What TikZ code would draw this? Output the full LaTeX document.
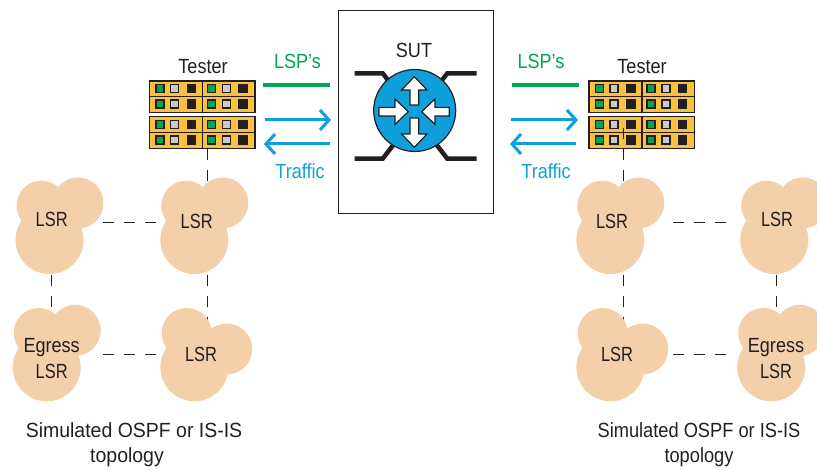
\documentclass[tikz,border=0pt]{standalone}
\usepackage{fontspec}
\setmainfont[FakeStretch=0.88]{Liberation Sans}
\newfontfamily\capfont[FakeStretch=0.95]{Liberation Sans}
\newfontfamily\capnarrowfont[FakeStretch=0.89]{Liberation Sans}
\newfontfamily\lsrfont[FakeStretch=0.8]{Liberation Sans}
\usetikzlibrary{arrows.meta}
\definecolor{ink}{HTML}{231F20}
\definecolor{peach}{HTML}{F3CFAA}
\definecolor{panel}{HTML}{FBC040}
\definecolor{lspgreen}{HTML}{00A651}
\definecolor{trafblue}{HTML}{0FA0DC}
\definecolor{lampgrey}{HTML}{C8CACC}
\tikzset{
  txt/.style={font=\fontsize{20.5}{24}\selectfont,text=ink,inner sep=0pt},
  lsrtxt/.style={font=\lsrfont\fontsize{20.5}{24}\selectfont,text=ink,inner sep=0pt},
  captxt/.style={font=\capfont\fontsize{20.5}{24}\selectfont,text=ink,inner sep=0pt},
  capnarrow/.style={font=\capnarrowfont\fontsize{20.5}{24}\selectfont,text=ink,inner sep=0pt},
  greentxt/.style={txt,text=lspgreen},
  bluetxt/.style={txt,text=trafblue},
  anchorbox/.style={inner sep=0pt,outer sep=0pt,minimum height=#1},
  link/.style={ink,line width=1.3pt,dash pattern=on 11pt off 10pt},
  lspline/.style={lspgreen,line width=4.5pt},
  trafline/.style={trafblue,line width=3pt,-{Straight Barb[length=9pt,width=20pt,line width=3pt]}},
  blobfill/.style={fill=peach,draw=none},
  leg/.style={ink,line width=4.5pt,line join=miter},
  whitearrow/.style={fill=white,draw=ink,line width=1.2pt,line join=miter},
  lamp/.style={draw=ink,line width=1.6pt,minimum size=8pt,inner sep=0pt,outer sep=0pt},
}
% lobes up-left and up-right of the big circle
\newcommand{\blobA}[2]{%
  \fill[blobfill] (#1,#2) circle[radius=34pt] (#1-8,#2-34.3) circle[radius=25pt] (#1+28.5,#2-37) circle[radius=25.5pt];}
% lobes up-left and right of the big circle
\newcommand{\blobB}[2]{%
  \fill[blobfill] (#1,#2) circle[radius=34pt] (#1-7.6,#2-34.3) circle[radius=25pt] (#1+32.5,#2-18.3) circle[radius=25.5pt];}
\newcommand{\lamps}[2]{%
  \node[lamp,fill=lspgreen] at (#1,#2) {};
  \node[lamp,fill=lampgrey] at (#1+14.8,#2) {};
  \node[lamp,fill=ink] at (#1+31.5,#2) {};}
\newcommand{\testerrack}[2]{% name, left x
  \node[inner sep=0pt,outer sep=0pt,minimum width=105.5pt,minimum height=67.7pt] (#1) at (#2+52.75,114.85) {};
  \foreach \ya/\yb in {81/112.7,116.7/148.7}{
    \draw[ink,line width=1.3pt,fill=panel] (#2,\ya) rectangle (#2+105.5,\yb);
    \draw[ink,line width=1.3pt] (#2,{(\ya+\yb)/2}) -- (#2+105.5,{(\ya+\yb)/2});
    \draw[ink,line width=1.3pt] (#2+53,\ya) -- (#2+53,\yb);
  }
  \foreach \yy in {88.7,104.3,124.7,140}{
    \lamps{#2+10.3}{\yy}
    \lamps{#2+62}{\yy}
  }}
\begin{document}
\begin{tikzpicture}[x=1pt,y=-1pt]
\useasboundingbox (0,0) rectangle (817,470);
\clip (0,0) rectangle (817,470);

% SUT box and router
\node[draw=ink,line width=1.3pt,inner sep=0pt,minimum width=155pt,minimum height=202.6pt] (sut) at (415.8,112) {};
\node[txt] (suttxt) at (414,50) {SUT};
\draw[leg] (354.7,73.3) -- (382.7,73.3) -- (394,88);
\draw[leg] (354.7,158.7) -- (382.7,158.7) -- (394,144);
\draw[leg] (476.7,73.3) -- (447.3,73.3) -- (436,88);
\draw[leg] (476.7,158.7) -- (447.3,158.7) -- (436,144);
\node[circle,draw=ink,line width=1.2pt,fill=trafblue,minimum size=82pt,inner sep=0pt] (router) at (414.7,110.5) {};
\draw[whitearrow] (414.3,76.7) -- (427,90) -- (418.7,90) -- (418.7,105) -- (410,105) -- (410,90) -- (401.6,90) -- cycle;
\draw[whitearrow] (414.3,147.3) -- (427,134) -- (418.7,134) -- (418.7,118) -- (410,118) -- (410,134) -- (401.6,134) -- cycle;
\draw[whitearrow] (408.3,111.7) -- (395,99) -- (395,107.4) -- (379,107.4) -- (379,116) -- (395,116) -- (395,124.4) -- cycle;
\draw[whitearrow] (421.7,111.7) -- (435,99) -- (435,107.4) -- (449.3,107.4) -- (449.3,116) -- (435,116) -- (435,124.4) -- cycle;

% testers
\testerrack{testerL}{149.5}
\testerrack{testerR}{589}
\node[txt] (testerLtxt) at (203,67) {Tester};
\node[txt] (testerRtxt) at (642,67) {Tester};

% invisible boxes of the LSR clouds: their sides are where the links stop
\node[anchorbox=104.6pt,minimum width=102.6pt] (tl) at (51.7,222.7) {};
\node[anchorbox=104.6pt,minimum width=101.4pt] (tm) at (207.7,222.7) {};
\node[anchorbox=94pt,minimum width=102.6pt] (bl) at (51.7,354.4) {};
\node[anchorbox=94pt,minimum width=101.4pt] (bm) at (207.7,354.4) {};
\node[anchorbox=104.6pt,minimum width=100pt] (rtl) at (623.3,222.7) {};
\node[anchorbox=104.6pt,minimum width=101pt] (rtr) at (776.3,222.7) {};
\node[anchorbox=94pt,minimum width=100pt] (rbl) at (623.3,354.4) {};
\node[anchorbox=94pt,minimum width=101pt] (rbr) at (776.3,354.4) {};
\coordinate (rtap) at (623.3,128);

% links
\draw[link] (testerL.south -| tm) -- (tm.center);
\draw[link] (rtap) -- (rtl.center);
\draw[link] (tl.east) -- (tm.west);
\draw[link] (bl.east) -- (bm.west);
\draw[link] (tl.south) -- (bl.north);
\draw[link] (tm.south) -- (bm.center);
\draw[link] (rtl.east) -- (rtr.west);
\draw[link] (rbl.east) -- (rbr.west);
\draw[link] (rtl.south) -- (rbl.center);
\draw[link] (rtr.south) -- (rbr.north);

% clouds
\blobA{49.5}{240}
\blobA{194.3}{240}
\blobA{46.7}{367.3}
\blobB{194.3}{367.3}
\blobA{610.3}{240}
\blobA{774.3}{240}
\blobB{610.3}{367.3}
\blobA{771.3}{367.3}

% cloud labels
\node[lsrtxt] (l1) at (51.7,219) {LSR};
\node[lsrtxt] (l2) at (196.7,221.7) {LSR};
\node[txt] (l3a) at (51.7,348) {Egress};
\node[lsrtxt] (l3b) at (51.7,371) {LSR};
\node[lsrtxt] (l4) at (201,354.3) {LSR};
\node[lsrtxt] (l5) at (612,221.7) {LSR};
\node[lsrtxt] (l6) at (777,219) {LSR};
\node[lsrtxt] (l7) at (617,354.3) {LSR};
\node[txt] (l8a) at (776,348) {Egress};
\node[lsrtxt] (l8b) at (776,371) {LSR};

% LSP and traffic lines
\coordinate (a1) at (263.3,85); \coordinate (a2) at (330,85);
\coordinate (b1) at (265,120); \coordinate (b2) at (331,120);
\coordinate (c1) at (330,144); \coordinate (c2) at (264,144);
\coordinate (d1) at (512,85); \coordinate (d2) at (579,85);
\coordinate (e1) at (511,120); \coordinate (e2) at (578,120);
\coordinate (f1) at (576,144); \coordinate (f2) at (510,144);
\draw[lspline] (a1) -- (a2);
\draw[trafline] (b1) -- (b2);
\draw[trafline] (c1) -- (c2);
\draw[lspline] (d1) -- (d2);
\draw[trafline] (e1) -- (e2);
\draw[trafline] (f1) -- (f2);
\node[greentxt] (lsp1) at (297.5,61) {LSP’s};
\node[greentxt] (lsp2) at (541,61) {LSP’s};
\node[bluetxt] (tr1) at (300,171) {Traffic};
\node[bluetxt] (tr2) at (546,171) {Traffic};

% captions
\node[captxt] (c1a) at (134,430) {Simulated OSPF or IS-IS};
\node[captxt] (c1b) at (127,457) {topology};
\node[capnarrow] (c2a) at (699,430) {Simulated OSPF or IS-IS};
\node[capnarrow] (c2b) at (699,457) {topology};
\end{tikzpicture}
\end{document}
